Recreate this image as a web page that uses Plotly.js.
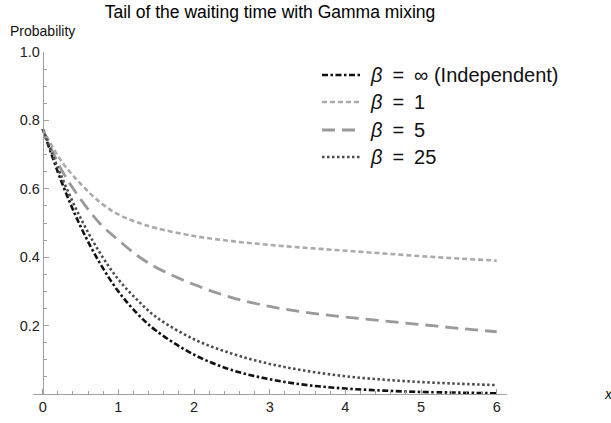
<!DOCTYPE html>
<html>
<head>
<meta charset="utf-8">
<script src="https://cdn.plot.ly/plotly-3.0.1.min.js"></script>
<style>html,body{margin:0;padding:0;background:#fff;}#chart{width:611px;height:423px;}</style>
</head>
<body>
<div id="chart"></div>
<script>
const xs = [0, 0.25, 0.5, 0.75, 1, 1.25, 1.5, 2, 2.5, 3, 3.5, 4, 4.5, 5, 5.5, 6];

// Tail probabilities
const indepVals = [0.775, 0.62, 0.49, 0.385, 0.30, 0.235, 0.185, 0.115, 0.07, 0.043, 0.026, 0.016, 0.010, 0.006, 0.004, 0.002];
const beta1Vals = [0.775, 0.68, 0.615, 0.562, 0.525, 0.502, 0.485, 0.462, 0.447, 0.436, 0.427, 0.419, 0.411, 0.403, 0.396, 0.39];
const beta5Vals = [0.775, 0.655, 0.57, 0.50, 0.45, 0.405, 0.37, 0.32, 0.282, 0.256, 0.238, 0.225, 0.214, 0.203, 0.192, 0.182];
const beta25Vals = [0.775, 0.635, 0.515, 0.415, 0.335, 0.275, 0.225, 0.16, 0.118, 0.088, 0.067, 0.052, 0.042, 0.035, 0.030, 0.026];

const seriesNames = ['<i>β</i>\u2002=\u2002∞ (Independent)', '<i>β</i>\u2002=\u20021', '<i>β</i>\u2002=\u20025', '<i>β</i>\u2002=\u200225'];

const xTickVals = [0, 1, 2, 3, 4, 5, 6];
const xTickText = ['0', '1', '2', '3', '4', '5', '6'];
const yTickVals = [0.2, 0.4, 0.6, 0.8, 1.0];
const yTickText = ['0.2', '0.4', '0.6', '0.8', '1.0'];

const FONT = 'Liberation Sans, Arial, sans-serif';

const styles = [
  {color: '#111111', width: 2.6, dash: '6px,2.5px,2.5px,2.5px'},
  {color: '#ababab', width: 2.6, dash: '5px,3px'},
  {color: '#9a9a9a', width: 2.8, dash: '13px,7px'},
  {color: '#4d4d4d', width: 2.6, dash: '2.5px,2.5px'}
];
const valueSets = [indepVals, beta1Vals, beta5Vals, beta25Vals];

const traces = valueSets.map((vals, i) => ({
  x: xs, y: vals, type: 'scatter', mode: 'lines',
  name: seriesNames[i], showlegend: false,
  line: {color: styles[i].color, width: styles[i].width, dash: styles[i].dash, shape: 'spline', smoothing: 1}
}));

// Plot area in pixels (from margins) used to place the hand-made legend
const PL = 33, PW = 474, PB = 394, PH = 342;
const px2fx = p => (p - PL) / PW;
const py2fy = p => (PB - p) / PH;
const legendRowsY = [75, 102, 130, 157];
const legendLineX = [322, 360];
const legendTextX = 368;

const shapes = [];
const annotations = [
  {text: 'Probability', xref: 'x', x: 0, yref: 'paper', y: 1, yshift: 11, xanchor: 'center', yanchor: 'bottom',
   showarrow: false, font: {family: FONT, size: 14, color: '#111'}},
  {text: '<i>x</i>', xref: 'paper', x: 1, xshift: 95, yref: 'y', y: 0, xanchor: 'left', yanchor: 'middle',
   showarrow: false, font: {family: FONT, size: 14, color: '#111'}}
];
seriesNames.forEach((name, i) => {
  const fy = py2fy(legendRowsY[i]);
  shapes.push({type: 'line', xref: 'paper', yref: 'paper', x0: px2fx(legendLineX[0]), x1: px2fx(legendLineX[1]),
               y0: fy, y1: fy, line: {color: styles[i].color, width: styles[i].width, dash: styles[i].dash}});
  annotations.push({text: name, xref: 'paper', yref: 'paper', x: px2fx(legendTextX), y: fy,
                    xanchor: 'left', yanchor: 'middle', showarrow: false,
                    font: {family: FONT, size: 20, color: '#111'}});
});

const layout = {
  width: 611, height: 423,
  margin: {l: PL, r: 611 - PL - PW, t: 52, b: 423 - PB, pad: 0},
  paper_bgcolor: '#fff', plot_bgcolor: '#fff',
  font: {family: FONT, size: 14, color: '#222'},
  title: {text: 'Tail of the waiting time with Gamma mixing', font: {family: FONT, size: 17.5, color: '#000'},
          x: 0.5, xref: 'paper', y: 1 - 12 / 423, yref: 'container', yanchor: 'middle'},
  showlegend: false,
  xaxis: {
    range: [-0.128, 6.136], showline: true, linecolor: '#a0a0a0', linewidth: 1,
    showgrid: false, zeroline: false, tickmode: 'array', tickvals: xTickVals, ticktext: xTickText,
    ticks: 'inside', ticklen: 5, tickcolor: '#a0a0a0', tickfont: {family: FONT, size: 14.5, color: '#222'},
    minor: {tickmode: 'linear', tick0: 0, dtick: 0.2, ticks: 'inside', ticklen: 3, tickcolor: '#a0a0a0'},
    fixedrange: true
  },
  yaxis: {
    range: [0, 1], anchor: 'free', position: 0.02046, showline: true, linecolor: '#a0a0a0', linewidth: 1,
    showgrid: false, zeroline: false, tickmode: 'array', tickvals: yTickVals, ticktext: yTickText,
    ticks: 'inside', ticklen: 5, tickcolor: '#a0a0a0', tickfont: {family: FONT, size: 14.5, color: '#222'},
    minor: {tickmode: 'linear', tick0: 0, dtick: 0.05, ticks: 'inside', ticklen: 3, tickcolor: '#a0a0a0'},
    fixedrange: true
  },
  shapes: shapes,
  annotations: annotations
};

Plotly.newPlot('chart', traces, layout, {displayModeBar: false, staticPlot: true});
</script>
</body>
</html>
